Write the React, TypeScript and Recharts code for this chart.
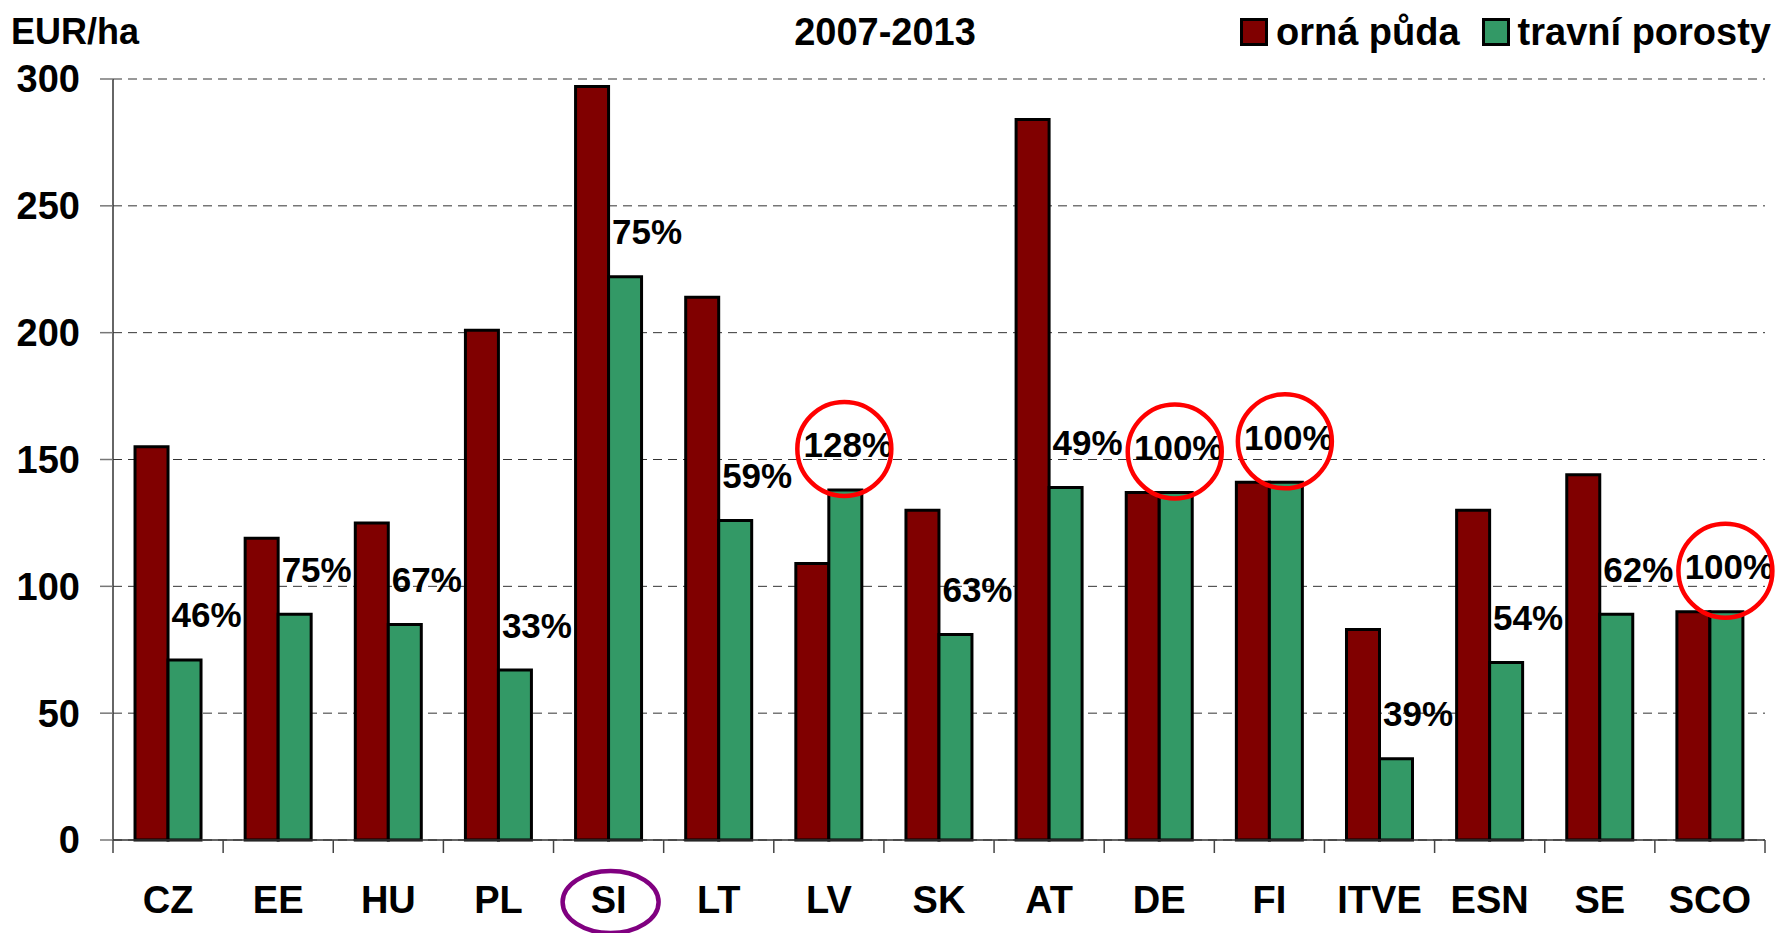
import React from 'react';
import { BarChart, Bar, XAxis, YAxis, CartesianGrid, LabelList } from 'recharts';

const countries = ['CZ', 'EE', 'HU', 'PL', 'SI', 'LT', 'LV', 'SK', 'AT', 'DE', 'FI', 'ITVE', 'ESN', 'SE', 'SCO'];
const arableLand = [155, 119, 125, 201, 297, 214, 109, 130, 284, 137, 141, 83, 130, 144, 90];
const grassland = [71, 89, 85, 67, 222, 126, 138, 81, 139, 137, 141, 32, 70, 89, 90];
const grassShare = [46, 75, 67, 33, 75, 59, 128, 63, 49, 100, 100, 39, 54, 62, 100];
const circledCountries = ['LV', 'DE', 'FI', 'SCO'];
const markedCountry = 'SI';
const yTicks = [0, 50, 100, 150, 200, 250, 300];

const data = countries.map((c, i) => ({
    country: c,
    arable: arableLand[i],
    grass: grassland[i],
    share: grassShare[i],
}));

const W = 1780;
const H = 933;
const Y_AXIS_W = 113;
const RIGHT = 15;
const BAND = (W - Y_AXIS_W - RIGHT) / countries.length;
const FONT = '"Liberation Sans", Arial, sans-serif';

// category label + boundary tick marks like the Excel original
const CountryTick = (props: any) => {
    const { x, y, payload, index } = props;
    const left = x - BAND / 2;
    const isLast = index === countries.length - 1 || payload.value === countries[countries.length - 1];
    return (
        <g>
            <line x1={left} y1={y} x2={left} y2={y + 13} stroke="#444" strokeWidth={1.5} />
            {isLast && <line x1={x + BAND / 2} y1={y} x2={x + BAND / 2} y2={y + 13} stroke="#444" strokeWidth={1.5} />}
            <text x={x} y={y + 60} textAnchor="middle" dominantBaseline="central"
                style={{ fontFamily: FONT, fontWeight: 700, fontSize: 38, fill: '#000' }}>
                {payload.value}
            </text>
            {payload.value === markedCountry && (
                <ellipse cx={x + 2} cy={y + 62} rx={48} ry={31} fill="none" stroke="#800080" strokeWidth={4.5} />
            )}
        </g>
    );
};

const ShareLabel = (props: any) => {
    const { x, y, width, value, index } = props;
    const short = String(value).length < 3;
    const cx = Number(x) + Number(width) / 2 + (short ? 22 : 3);
    const cy = Number(y) - 45;
    const circled = circledCountries.includes(countries[index]);
    return (
        <g>
            <text x={cx} y={cy} textAnchor="middle" dominantBaseline="central"
                style={{ fontFamily: FONT, fontWeight: 700, fontSize: 35, fill: '#000' }}>
                {`${value}%`}
            </text>
            {circled && <circle cx={cx - 4} cy={cy + 4} r={47} fill="none" stroke="#ff0000" strokeWidth={4.5} />}
        </g>
    );
};

const LegendBox = ({ color, label }: { color: string; label: string }) => (
    <div style={{ display: 'flex', alignItems: 'center' }}>
        <div style={{ width: 22, height: 22, background: color, border: '3px solid #000' }} />
        <span style={{ marginLeft: 8 }}>{label}</span>
    </div>
);

const App: React.FC = () => {
    return (
        <div style={{ position: 'relative', width: W, height: H, fontFamily: FONT, background: '#fff' }}>
            <style>{'body{margin:0}'}</style>
            <div style={{ position: 'absolute', left: 11, top: 12, fontSize: 36, fontWeight: 700, lineHeight: '40px' }}>EUR/ha</div>
            <div style={{ position: 'absolute', left: 885, top: 12, transform: 'translateX(-50%)', fontSize: 38, fontWeight: 700, lineHeight: '40px' }}>2007-2013</div>
            <div style={{ position: 'absolute', right: 9, top: 12, height: 40, display: 'flex', alignItems: 'center', gap: 22, fontSize: 38, fontWeight: 700 }}>
                <LegendBox color="#800000" label="orná půda" />
                <LegendBox color="#339966" label="travní porosty" />
            </div>
            <BarChart width={W} height={H} data={data}
                margin={{ top: 79, right: RIGHT, left: 0, bottom: 0 }}
                barCategoryGap="20%" barGap={0}>
                <CartesianGrid vertical={false} strokeDasharray="9 6" stroke="#333" />
                <XAxis dataKey="country" height={93} interval={0} tickSize={0} tickMargin={0}
                    tickLine={false} axisLine={{ stroke: '#333', strokeWidth: 1.5 }} tick={<CountryTick />} />
                <YAxis width={Y_AXIS_W} domain={[0, 300]} ticks={yTicks} tickSize={13} tickMargin={20}
                    axisLine={{ stroke: '#333', strokeWidth: 1.5 }} tickLine={{ stroke: '#777', strokeWidth: 1.5 }}
                    tick={{ fontFamily: FONT, fontWeight: 700, fontSize: 38, fill: '#000' }} />
                <Bar dataKey="arable" fill="#800000" stroke="#000" strokeWidth={3} isAnimationActive={false} />
                <Bar dataKey="grass" fill="#339966" stroke="#000" strokeWidth={3} isAnimationActive={false}>
                    <LabelList dataKey="share" content={ShareLabel} />
                </Bar>
            </BarChart>
        </div>
    );
};

export default App;
